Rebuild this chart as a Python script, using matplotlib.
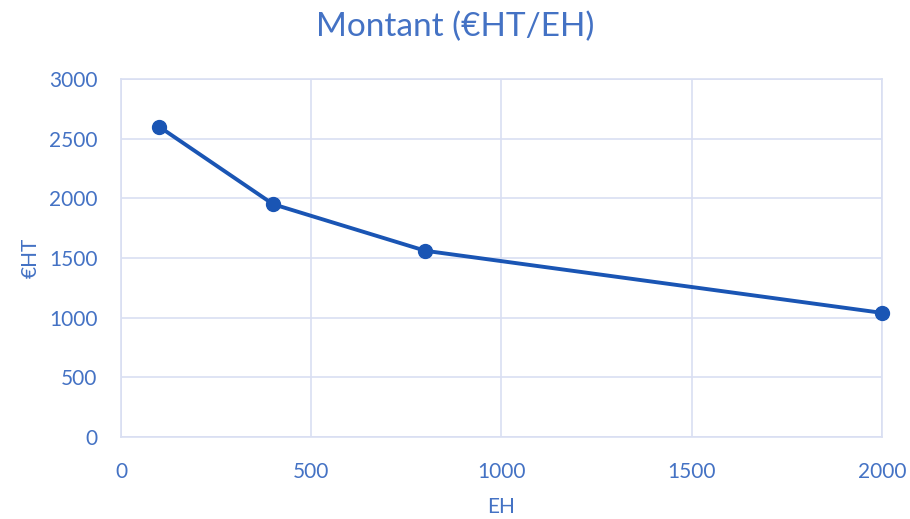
import matplotlib
matplotlib.use("Agg")
import matplotlib.pyplot as plt

# EH volume vs. price (€ HT)
eh = [100, 400, 800, 2000]
montant = [2600, 1950, 1560, 1040]
x_ticks = [0, 500, 1000, 1500, 2000]
y_ticks = [0, 500, 1000, 1500, 2000, 2500, 3000]

TEXT = "#4472C4"
SERIES = "#1A55B4"
GRID = "#D9DFF2"

plt.rcParams["font.family"] = ["Lato", "DejaVu Sans"]

fig = plt.figure(figsize=(9.1, 5.19), dpi=100)
ax = fig.add_axes([0.133, 0.158, 0.836, 0.69])

ax.plot(eh, montant, color=SERIES, lw=2.8, marker="o", ms=10, zorder=3,
        clip_on=False)

ax.set_xlim(0, 2000)
ax.set_ylim(0, 3000)
ax.set_xticks(x_ticks)
ax.set_yticks(y_ticks)
ax.grid(True, color=GRID, lw=1.2)
ax.set_axisbelow(True)
for s in ax.spines.values():
    s.set_color(GRID)
    s.set_linewidth(1.2)
ax.tick_params(length=0, labelsize=15, colors=TEXT)
ax.tick_params(axis="x", pad=18)
ax.tick_params(axis="y", pad=17)

ax.set_xlabel("EH", color=TEXT, fontsize=15, labelpad=11)
ax.set_ylabel("€HT", color=TEXT, fontsize=15, labelpad=6)
fig.suptitle("Montant (€HT/EH)", color=TEXT, fontsize=24, y=0.978)

fig.savefig("out.png", dpi=100)
